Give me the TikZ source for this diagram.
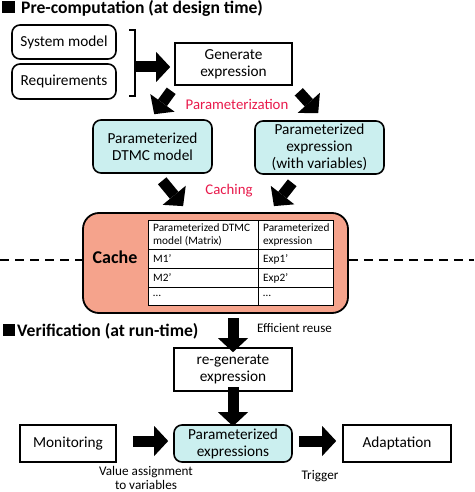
\documentclass[tikz,border=0pt]{standalone}
\usepackage{fontspec}
\setmainfont{Carlito}
\usetikzlibrary{arrows.meta,calc}
\definecolor{cyanfill}{HTML}{CBEFEF}
\definecolor{salmon}{HTML}{F5A38C}
\definecolor{redtxt}{HTML}{E8194B}
\tikzset{
  box/.style={draw=black,line width=1.6pt,align=center,inner sep=0pt,font=\fontsize{15.3}{17}\selectfont},
  rbox/.style={box,rounded corners=8pt},
  cbox/.style={rbox,fill=cyanfill},
  blk/.style={line width=11pt,-{Triangle[width=30pt,length=14pt,line width=0pt]}},
  redlbl/.style={text=redtxt,font=\fontsize{14.8}{17}\selectfont,inner sep=0pt},
  lbl/.style={font=\fontsize{13.2}{14.5}\selectfont,inner sep=0pt,align=center},
  tbl/.style={font=\fontsize{11.3}{13}\selectfont,inner sep=0pt,anchor=west,align=left},
  hdr/.style={font=\bfseries\fontsize{17.6}{20}\selectfont,inner sep=0pt,anchor=base west}
}
\begin{document}
\begin{tikzpicture}[x=1pt,y=-1pt]
\useasboundingbox (0,0) rectangle (474,492);
% titles
\fill (2,1) rectangle (15,13);
\node[hdr] (t1) at (21,14) {Pre-computation (at design time)};
\fill (3,324) rectangle (15,336);
\node[hdr] (t2) at (17,336) {Verification (at run-time)};
% top boxes
\node[rbox,minimum width=104pt,minimum height=34pt] (sys) at (64,42) {System model};
\node[rbox,minimum width=104pt,minimum height=35pt] (req) at (64,81.5) {Requirements};
\draw[line width=2.5pt] (129,30) -- (135,30) -- (135,96) -- (129,96);
\coordinate (brk) at (135,67);
\node[box,minimum width=117pt,minimum height=42pt] (gen) at (233.5,64) {Generate\\expression};
\draw[blk] (brk) -- ([shift={(-4,3)}]gen.west);
% parameterized
\node[redlbl] (param) at (237,104) {Parameterization};
\node[cbox,minimum width=119pt,minimum height=53pt] (dtmc) at (152.5,146.5) {Parameterized\\DTMC model};
\node[cbox,minimum width=129pt,minimum height=53pt] (pexp) at (319.5,147.5) {Parameterized\\expression\\(with variables)};
\draw[blk] ([shift={(-3,5)}]gen.south west) -- ([shift={(62,-5)}]dtmc.north west);
\draw[blk] ([shift={(6,6)}]gen.south east) -- ([shift={(64,-7)}]pexp.north west);
% caching
\node[redlbl] (cach) at (229,191) {Caching};
\node[draw=black,line width=1.8pt,rounded corners=16pt,fill=salmon,minimum width=265pt,minimum height=100pt,inner sep=0pt] (cache) at (215.5,263) {};
\draw[blk] ([shift={(70,7)}]dtmc.south west) -- ([shift={(101,-6)}]cache.north west);
\draw[blk] ([shift={(38,8)}]pexp.south west) -- ([shift={(-75,-6)}]cache.north east);
\node[font=\bfseries\fontsize{18}{22}\selectfont,inner sep=0pt] (cachelbl) at (115,257) {Cache};
% table
\draw[fill=white,line width=1pt] (148,220) rectangle (333,305);
\draw[line width=1pt] (258,220) -- (258,305)
  (148,249) -- (333,249) (148,268) -- (333,268) (148,287) -- (333,287);
\node[tbl] (h1) at (153,235) {Parameterized DTMC\\model (Matrix)};
\node[tbl] (h2) at (263,235) {Parameterized\\expression};
\node[tbl] (m1) at (153,259) {M1’};
\node[tbl] (e1) at (263,259) {Exp1’};
\node[tbl] (m2) at (153,278) {M2’};
\node[tbl] (e2) at (263,278) {Exp2’};
\node[tbl] (m3) at (153,296) {…};
\node[tbl] (e3) at (263,296) {…};
% dashed separator
\coordinate (dl) at (0,260);
\coordinate (dr) at (474,260);
\draw[line width=2pt,dash pattern=on 9pt off 6pt] (dl) -- (cache.west |- dl);
\draw[line width=2pt,dash pattern=on 9pt off 6pt] (cache.east |- dr) -- (dr);
% run-time
\node[box,minimum width=118pt,minimum height=43pt] (regen) at (233,369.5) {re-generate\\expression};
\draw[blk] ([shift={(17.5,4)}]cache.south) -- ([yshift=-5]regen.north);
\node[font=\fontsize{13}{15}\selectfont,inner sep=0pt,anchor=west] (reuse) at (257,328) {Efficient reuse};
\node[box,minimum width=96pt,minimum height=37pt] (mon) at (68,443.5) {Monitoring};
\node[cbox,minimum width=118pt,minimum height=37pt] (pexps) at (233,443.5) {Parameterized\\expressions};
\node[box,minimum width=108pt,minimum height=37pt] (adapt) at (397,443.5) {Adaptation};
\draw[blk] ([yshift=5]regen.south) -- ([yshift=-2]pexps.north);
\draw[blk] ([shift={(16,-2.5)}]mon.east) -- ([shift={(-5,-2.5)}]pexps.west);
\draw[blk] ([shift={(6,-2.5)}]pexps.east) -- ([shift={(-6,-2.5)}]adapt.west);
\node[lbl] (va) at (146,478) {Value assignment\\to variables};
\node[lbl] (trig) at (320,476) {Trigger};
\end{tikzpicture}
\end{document}
